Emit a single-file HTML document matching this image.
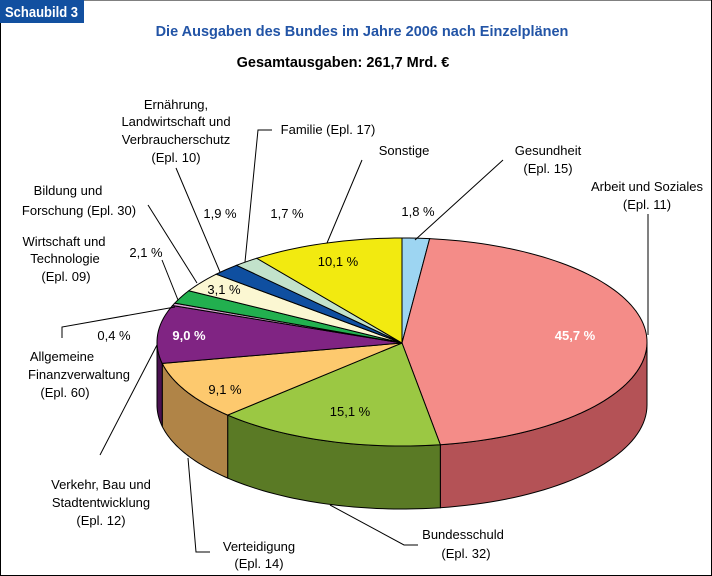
<!DOCTYPE html>
<html><head><meta charset="utf-8"><style>
body{margin:0;background:#fff}
svg{display:block;font-family:"Liberation Sans",Arial,sans-serif}
</style></head><body>
<svg id="s" width="712" height="576" viewBox="0 0 712 576">
<rect x="0.5" y="0" width="711" height="575.5" fill="#fff" stroke="#000" stroke-width="1"/>
<rect x="0" y="0" width="84" height="23" fill="#1250a0"/>
<text x="5" y="17" font-size="15" font-weight="bold" fill="#fff" textLength="73" lengthAdjust="spacingAndGlyphs">Schaubild 3</text>
<text x="362" y="36" font-size="14.5" font-weight="bold" fill="#2254a6" text-anchor="middle">Die Ausgaben des Bundes im Jahre 2006 nach Einzelplänen</text>
<text x="343" y="67" font-size="14.5" font-weight="bold" fill="#000" text-anchor="middle">Gesamtausgaben: 261,7 Mrd. €</text>
<g id="pie"></g>
<g fill="none" stroke="#000" stroke-width="1">
<polyline points="176,168 220,272"/>
<polyline points="272,130 258,130 245,262"/>
<polyline points="362,160 327,243"/>
<polyline points="503,160 415,240"/>
<polyline points="648,214 648,335"/>
<polyline points="148,205 197,283"/>
<polyline points="162,260 178,300"/>
<polyline points="62,338 62,327 175,307"/>
<polyline points="100,455 157,345"/>
<polyline points="210,552 196,552 188,458"/>
<polyline points="418,545 404,545 330,505"/>
</g>
<g font-size="13" fill="#000" text-anchor="middle">
<text x="176" y="109">Ernährung,</text>
<text x="176" y="126">Landwirtschaft und</text>
<text x="176" y="144">Verbraucherschutz</text>
<text x="176" y="162">(Epl. 10)</text>
<text x="328" y="134">Familie (Epl. 17)</text>
<text x="404" y="155">Sonstige</text>
<text x="548" y="155">Gesundheit</text>
<text x="548" y="173">(Epl. 15)</text>
<text x="647" y="191">Arbeit und Soziales</text>
<text x="647" y="209">(Epl. 11)</text>
<text x="220" y="218">1,9 %</text>
<text x="287" y="218">1,7 %</text>
<text x="418" y="216">1,8 %</text>
<text x="68" y="195">Bildung und</text>
<text x="79" y="215">Forschung (Epl. 30)</text>
<text x="64" y="246">Wirtschaft und</text>
<text x="65" y="263">Technologie</text>
<text x="66" y="281">(Epl. 09)</text>
<text x="146" y="257">2,1 %</text>
<text x="114" y="340">0,4 %</text>
<text x="62" y="361">Allgemeine</text>
<text x="79" y="379">Finanzverwaltung</text>
<text x="65" y="397">(Epl. 60)</text>
<text x="101" y="489">Verkehr, Bau und</text>
<text x="101" y="507">Stadtentwicklung</text>
<text x="101" y="525">(Epl. 12)</text>
<text x="259" y="551">Verteidigung</text>
<text x="259" y="568">(Epl. 14)</text>
<text x="463" y="539">Bundesschuld</text>
<text x="466" y="558">(Epl. 32)</text>
</g>
<g id="lbl" font-size="13" fill="#000" text-anchor="middle">
<text x="350" y="416">15,1 %</text>
<text x="225" y="394">9,1 %</text>
<text x="224" y="294">3,1 %</text>
<text x="338" y="266">10,1 %</text>
<text x="575" y="340" fill="#fff" font-weight="bold">45,7 %</text>
<text x="189" y="340" fill="#fff" font-weight="bold">9,0 %</text>
</g>
</svg>
<script>
var cx=402,cy=342,rx=245,ry=104,ax=402,ay=343,D=63;
var d=[[1.8,"#9dd5f2","#6a9fbf"],[45.7,"#f48c88","#b45256"],[15.1,"#9bc843","#5a7a25"],[9.1,"#fdc96e","#b08447"],[9.0,"#802483","#4a1050"],[0.4,"#d9a6d4","#a070a0"],[2.1,"#22b04f","#157a35"],[3.1,"#fbf7d2","#c0bc90"],[1.9,"#0f4fa0","#0a3570"],[1.7,"#c2e2cb","#88a890"],[10.1,"#f2ea10","#b0a800"]];
function P(a,dy){return [cx+rx*Math.sin(a),cy-ry*Math.cos(a)+(dy||0)];}
var g=document.getElementById("pie"),sideS="",topS="",acc=0,S=Math.PI/180;
function arc(a0,a1,dy,n){var s="";for(var i=0;i<=n;i++){var p=P(a0+(a1-a0)*i/n,dy);s+=(i?"L":"")+p[0].toFixed(2)+","+p[1].toFixed(2)+" ";}return s;}
d.forEach(function(v){var a0=acc*3.6*S;acc+=v[0];var a1=acc*3.6*S;
 var s0=Math.max(a0,90*S),s1=Math.min(a1,270*S);
 if(s1>s0){sideS+='<path d="M'+arc(s0,s1,0,40)+'L'+arc(s1,s0,D,40)+'Z" fill="'+v[2]+'" stroke="#000" stroke-width="1"/>';}
 topS+='<path d="M'+ax+','+ay+' L'+arc(a0,a1,0,Math.max(4,Math.ceil(v[0]*2)))+'Z" fill="'+v[1]+'" stroke="#000" stroke-width="1"/>';});
g.innerHTML=sideS+topS;
</script>
</body></html>
